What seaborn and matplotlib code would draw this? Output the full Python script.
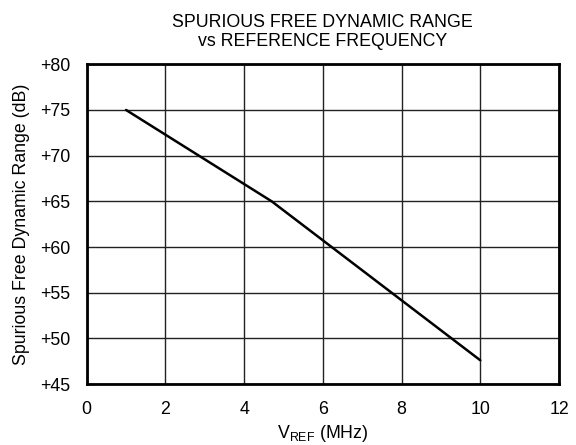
import matplotlib
matplotlib.use("Agg")
import matplotlib.pyplot as plt
import seaborn as sns
import pandas as pd

# values
vref_mhz = [1.0, 4.7, 10.0]
sfdr_db = [75.0, 65.0, 47.6]
x_ticks = [0, 2, 4, 6, 8, 10, 12]
y_ticks = [45, 50, 55, 60, 65, 70, 75, 80]
y_labels = ["+45", "+50", "+55", "+60", "+65", "+70", "+75", "+80"]

sns.set_style("white")
plt.rcParams['font.family'] = ['Liberation Sans', 'DejaVu Sans']
plt.rcParams['mathtext.fontset'] = 'custom'
plt.rcParams['mathtext.rm'] = 'Liberation Sans'
plt.rcParams['text.color'] = 'black'
plt.rcParams['axes.labelcolor'] = 'black'

df = pd.DataFrame({"vref": vref_mhz, "sfdr": sfdr_db})

fig = plt.figure(figsize=(5.76, 4.45), dpi=100)
ax = fig.add_axes([0.1505, 0.137, 0.82, 0.7185])
sns.lineplot(data=df, x="vref", y="sfdr", ax=ax, color="black", linewidth=1.8)

fs = 12.8
ax.set_xlim(0, 12)
ax.set_ylim(45, 80)
ax.set_xticks(x_ticks)
ax.set_yticks(y_ticks)
ax.set_yticklabels(y_labels)
ax.grid(True, color="#222222", linewidth=1.0)
ax.set_axisbelow(True)
for s in ax.spines.values():
    s.set_color("black")
    s.set_linewidth(2.0)
ax.tick_params(axis="both", length=0, labelsize=fs, colors="black")
ax.tick_params(axis="y", pad=12)
ax.tick_params(axis="x", pad=12)

ax.set_xlabel(r"V$_{\mathregular{REF}}$ (MHz)", fontsize=fs, labelpad=4, color="black")
ax.set_ylabel("Spurious Free Dynamic Range (dB)", fontsize=fs, labelpad=7, color="black")
ax.set_title("SPURIOUS FREE DYNAMIC RANGE\nvs REFERENCE FREQUENCY", fontsize=fs,
             pad=13, linespacing=1.2, color="black")

fig.savefig("out.png", dpi=100)
